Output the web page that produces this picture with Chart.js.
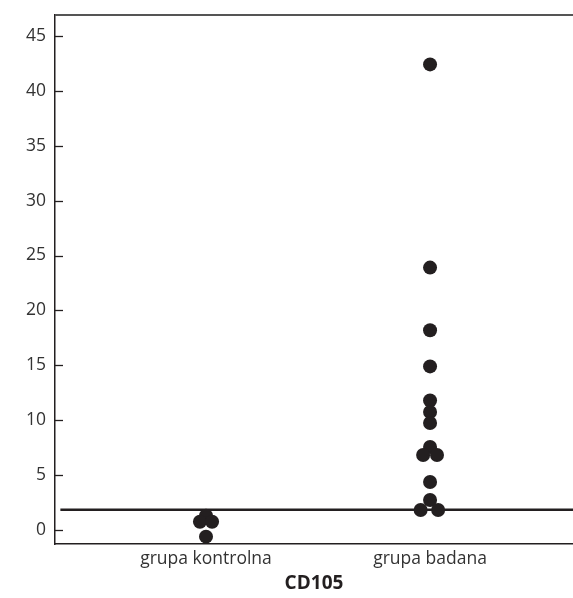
<!DOCTYPE html>
<html>
<head>
<meta charset="utf-8">
<script src="https://cdn.jsdelivr.net/npm/chart.js@4"></script>
<style>
  html, body { margin: 0; padding: 0; background: #fff; }
  #wrap { width: 573px; height: 598px; }
</style>
</head>
<body>
<div id="wrap"><canvas id="cdChart" width="573" height="598"></canvas></div>
<script>
const categories = ['grupa kontrolna', 'grupa badana'];
const kontrolnaValues = [1.3, 0.75, 0.75, -0.6];
const kontrolnaJitter = [0, -0.027, 0.027, 0];
const badanaValues = [42.4, 23.9, 18.2, 14.9, 11.8, 10.75, 9.75, 7.56, 6.83, 6.83, 4.37, 2.73, 1.82, 1.82];
const badanaJitter = [0, 0, 0, 0, 0, 0, 0, 0, -0.031, 0.031, 0, 0, -0.042, 0.036];
const cutoff = 1.85;
const yTicks = [0, 5, 10, 15, 20, 25, 30, 35, 40, 45];

const dotColor = '#231f20';
const fontFamily = '"Open Sans", "Noto Sans", sans-serif';

// axis frame: top line and inward tick marks on y axis
const framePlugin = {
    id: 'frame',
    afterDraw(chart) {
        const { ctx, chartArea } = chart;
        const y = chart.scales.y;
        ctx.save();
        ctx.strokeStyle = '#555';
        ctx.lineWidth = 1.8;
        ctx.beginPath();
        ctx.moveTo(chartArea.left, chartArea.top);
        ctx.lineTo(chartArea.right, chartArea.top);
        ctx.stroke();
        ctx.strokeStyle = dotColor;
        ctx.lineWidth = 1.3;
        yTicks.forEach(v => {
            const py = Math.round(y.getPixelForValue(v)) + 0.5;
            ctx.beginPath();
            ctx.moveTo(chartArea.left, py);
            ctx.lineTo(chartArea.left + 8, py);
            ctx.stroke();
        });
        ctx.restore();
    }
};

const ctx = document.getElementById('cdChart').getContext('2d');
const cdChart = new Chart(ctx, {
    type: 'scatter',
    data: {
        datasets: [
            {
                label: categories[0],
                data: kontrolnaValues.map((v, i) => ({ x: 1 + kontrolnaJitter[i], y: v })),
                backgroundColor: dotColor,
                borderColor: dotColor,
                pointRadius: 7,
                pointBorderWidth: 0
            },
            {
                label: categories[1],
                data: badanaValues.map((v, i) => ({ x: 2 + badanaJitter[i], y: v })),
                backgroundColor: dotColor,
                borderColor: dotColor,
                pointRadius: 7,
                pointBorderWidth: 0
            },
            {
                type: 'line',
                label: 'cutoff',
                data: [{ x: 0.35, y: cutoff }, { x: 2.64, y: cutoff }],
                borderColor: dotColor,
                borderWidth: 2.6,
                pointRadius: 0,
                fill: false,
                order: 5
            }
        ]
    },
    options: {
        responsive: false,
        animation: false,
        layout: { autoPadding: false, padding: { top: 15, right: 0, left: 0, bottom: 0 } },
        plugins: {
            legend: { display: false },
            tooltip: { enabled: false }
        },
        scales: {
            x: {
                type: 'linear',
                min: 0.326,
                max: 2.638,
                afterBuildTicks: scale => { scale.ticks = [{ value: 1 }, { value: 2 }]; },
                afterFit: scale => {
                    scale.height = 54;
                    scale.paddingLeft = 0;
                    scale.paddingRight = 0;
                },
                grid: { display: false, drawTicks: false },
                border: { display: true, color: dotColor, width: 1.5 },
                ticks: {
                    padding: 5,
                    color: '#333',
                    font: { family: fontFamily, size: 17.5 },
                    callback: v => categories[v - 1] || ''
                },
                title: {
                    display: true,
                    text: 'CD105',
                    color: '#231f20',
                    font: { family: fontFamily, size: 19, weight: 'bold' },
                    padding: { top: 2, bottom: 3 }
                }
            },
            y: {
                min: -1.27,
                max: 46.9,
                afterBuildTicks: scale => { scale.ticks = yTicks.map(v => ({ value: v })); },
                afterFit: scale => {
                    scale.width = 55;
                    scale.paddingTop = 0;
                    scale.paddingBottom = 0;
                },
                grid: { display: false, drawTicks: false },
                border: { display: true, color: dotColor, width: 1.5 },
                ticks: {
                    padding: 9,
                    color: '#333',
                    font: { family: fontFamily, size: 17.5 }
                }
            }
        }
    },
    plugins: [framePlugin]
});
</script>
</body>
</html>
